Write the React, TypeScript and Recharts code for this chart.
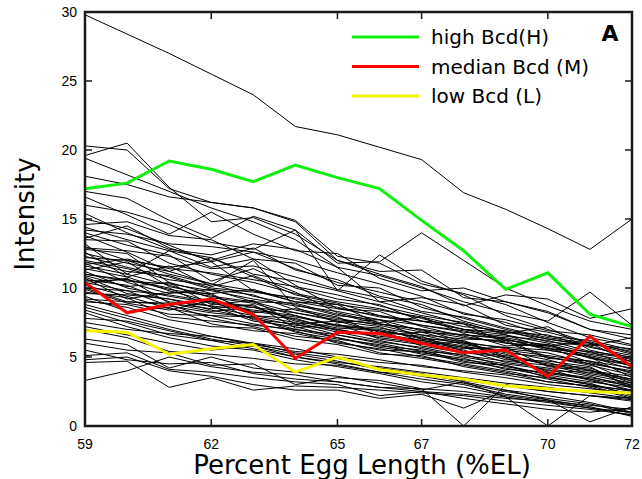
import { LineChart, Line, XAxis, YAxis } from 'recharts';

// percent egg length positions (x)
const pct = [59, 60, 61, 62, 63, 64, 65, 66, 67, 68, 69, 70, 71, 72];
const xTicks = [59, 62, 65, 67, 70, 72];
const yTicks = [0, 5, 10, 15, 20, 25, 30];

const highBcd = [17.2, 17.6, 19.2, 18.6, 17.7, 18.9, 18.0, 17.2, 14.9, 12.7, 9.9, 11.1, 8.1, 7.2];
const medianBcd = [10.4, 8.2, 8.8, 9.2, 8.1, 4.9, 6.8, 6.7, 6.0, 5.3, 5.5, 3.6, 6.5, 4.3];
const lowBcd = [6.9, 6.8, 5.2, 5.6, 5.9, 3.9, 5.0, 4.1, 3.7, 3.4, 2.9, 2.7, 2.5, 2.4];

// individual embryo profiles (black)
const embryos = [
  [29.8, 28.4, 27.0, 25.5, 24.0, 21.7, 21.1, 20.2, 19.3, 16.9, 15.7, 14.3, 12.8, 15.0],
  [20.3, 20.0, 17.2, 16.2, 15.8, 14.9, 12.3, 11.8, 10.3, 9.6, 8.8, 7.5, 6.4, 5.8],
  [19.6, 20.5, 17.3, 14.8, 15.1, 13.9, 12.0, 11.2, 11.3, 9.3, 9.0, 8.3, 7.0, 6.3],
  [19.4, 18.2, 17.0, 15.8, 14.8, 13.5, 11.5, 10.9, 10.0, 9.0, 8.2, 7.6, 9.7, 7.3],
  [18.1, 17.5, 16.6, 16.2, 15.8, 14.8, 12.0, 11.0, 10.1, 8.7, 9.5, 9.2, 7.8, 8.5],
  [17.0, 16.5, 14.9, 13.6, 15.2, 14.2, 11.8, 11.9, 14.0, 12.0, 10.0, 8.7, 7.6, 7.0],
  [16.6, 15.3, 13.9, 15.5, 13.9, 12.7, 12.5, 10.7, 9.8, 10.0, 9.0, 8.2, 7.0, 6.6],
  [16.0, 15.5, 14.6, 13.3, 12.8, 14.2, 9.8, 12.4, 10.5, 9.5, 8.0, 7.0, 6.0, 4.6],
  [15.4, 14.0, 12.8, 12.4, 13.2, 12.8, 11.5, 9.0, 9.3, 8.8, 7.3, 6.8, 6.0, 5.2],
  [15.0, 14.3, 13.1, 11.9, 12.6, 11.4, 10.4, 9.7, 9.0, 8.2, 7.5, 6.5, 6.2, 5.5],
  [14.6, 14.8, 13.8, 13.5, 12.1, 11.8, 10.2, 10.0, 8.6, 7.8, 7.0, 6.3, 5.8, 4.9],
  [14.4, 13.5, 12.7, 12.2, 11.0, 10.5, 9.8, 9.0, 8.2, 7.4, 6.7, 7.2, 5.5, 4.8],
  [14.2, 13.9, 13.2, 13.0, 12.6, 12.0, 11.1, 10.3, 9.4, 8.1, 7.7, 6.9, 6.6, 5.9],
  [14.0, 13.1, 12.4, 10.5, 11.4, 10.0, 9.2, 8.8, 7.6, 7.4, 6.0, 5.8, 5.0, 4.1],
  [13.8, 12.6, 11.2, 12.2, 10.8, 9.5, 8.9, 8.0, 7.3, 6.9, 6.2, 5.0, 4.5, 4.0],
  [13.6, 14.5, 12.9, 12.0, 12.9, 11.3, 10.6, 9.4, 8.8, 7.6, 6.8, 6.6, 5.7, 5.1],
  [13.5, 13.4, 11.8, 11.0, 10.4, 9.6, 9.0, 8.5, 7.8, 7.0, 6.6, 5.6, 5.4, 4.3],
  [13.2, 11.0, 12.7, 11.5, 12.1, 10.2, 8.5, 8.3, 7.2, 6.5, 6.0, 5.7, 4.6, 3.9],
  [13.0, 12.0, 11.5, 11.9, 9.8, 9.2, 8.6, 7.9, 7.6, 7.0, 6.3, 5.5, 5.0, 3.5],
  [12.9, 12.7, 12.3, 11.4, 11.6, 10.8, 9.9, 9.3, 8.3, 7.9, 7.1, 6.4, 6.0, 5.4],
  [12.8, 12.5, 10.4, 9.6, 9.9, 9.0, 8.8, 7.4, 7.0, 6.1, 5.6, 5.3, 4.5, 3.2],
  [12.6, 10.8, 11.6, 10.1, 10.9, 9.7, 8.2, 7.5, 7.9, 6.7, 5.8, 5.9, 4.9, 4.4],
  [12.5, 11.8, 11.2, 10.3, 9.4, 8.8, 8.0, 7.7, 6.9, 6.4, 6.1, 4.9, 4.7, 3.8],
  [12.3, 11.5, 10.8, 9.9, 9.5, 8.4, 7.8, 7.3, 6.6, 5.9, 5.4, 4.8, 4.0, 3.4],
  [12.2, 12.0, 11.0, 10.3, 9.8, 9.0, 8.5, 8.0, 7.6, 7.0, 6.8, 6.3, 5.9, 5.6],
  [12.0, 11.4, 10.6, 10.2, 12.0, 8.6, 7.5, 7.7, 6.3, 6.2, 5.0, 4.5, 4.2, 3.1],
  [11.9, 11.2, 10.9, 10.0, 9.7, 9.3, 8.8, 8.4, 7.9, 7.2, 6.9, 6.1, 5.8, 6.4],
  [11.8, 10.4, 9.6, 9.9, 9.0, 8.2, 7.6, 6.8, 6.5, 5.4, 5.1, 4.6, 3.8, 3.3],
  [11.7, 12.1, 11.4, 11.1, 10.6, 10.1, 9.5, 8.7, 8.0, 7.5, 6.6, 6.0, 5.3, 4.9],
  [11.6, 11.0, 10.2, 9.3, 8.9, 8.0, 7.2, 7.0, 6.3, 5.8, 5.2, 4.4, 4.1, 2.9],
  [11.4, 10.8, 9.8, 9.0, 8.7, 7.6, 7.0, 6.4, 6.0, 5.5, 4.6, 4.2, 3.6, 2.8],
  [11.3, 11.9, 10.1, 9.5, 8.2, 8.5, 7.9, 6.6, 6.8, 6.0, 5.3, 5.0, 4.4, 3.7],
  [11.2, 10.0, 9.4, 8.9, 8.3, 7.9, 7.3, 6.9, 5.8, 5.3, 5.0, 3.9, 3.5, 3.0],
  [11.0, 10.5, 10.3, 9.8, 9.2, 8.7, 8.3, 7.7, 7.3, 6.8, 6.5, 6.2, 5.4, 5.0],
  [11.0, 10.6, 10.0, 8.6, 8.0, 7.5, 6.8, 6.2, 5.6, 5.0, 4.5, 4.1, 3.3, 2.6],
  [10.9, 10.1, 10.4, 8.8, 9.1, 7.4, 7.6, 7.2, 6.1, 5.6, 5.7, 4.3, 4.0, 3.6],
  [10.8, 9.6, 9.2, 8.4, 7.8, 7.0, 6.6, 6.0, 5.4, 5.2, 4.3, 3.8, 3.4, 2.5],
  [10.7, 9.2, 9.7, 9.6, 8.0, 7.8, 6.9, 6.7, 6.2, 5.7, 4.8, 4.7, 4.3, 2.7],
  [10.6, 10.2, 9.0, 8.7, 7.6, 7.2, 6.4, 5.8, 5.5, 4.7, 4.2, 3.6, 3.0, 2.3],
  [10.5, 10.6, 9.9, 9.4, 9.0, 8.9, 8.1, 7.4, 7.0, 6.6, 6.4, 5.8, 6.1, 5.3],
  [10.4, 9.8, 8.7, 8.2, 7.9, 6.8, 6.3, 5.9, 5.2, 4.8, 4.4, 3.5, 3.1, 2.2],
  [10.3, 10.7, 8.9, 8.5, 8.8, 7.1, 7.4, 6.3, 5.9, 6.1, 4.9, 4.0, 3.9, 3.4],
  [10.2, 9.4, 8.5, 8.0, 7.4, 6.9, 6.0, 5.6, 5.0, 4.5, 4.0, 3.4, 2.8, 2.0],
  [10.0, 9.8, 9.5, 9.0, 8.6, 8.2, 7.7, 7.4, 6.8, 6.6, 6.3, 5.6, 5.2, 4.7],
  [10.0, 9.0, 8.8, 7.8, 7.2, 6.5, 6.2, 5.3, 4.9, 4.4, 3.9, 3.2, 2.9, 2.1],
  [9.9, 8.9, 8.4, 9.1, 7.7, 7.4, 6.6, 6.1, 5.7, 5.1, 4.7, 4.4, 3.7, 3.1],
  [9.7, 9.3, 7.9, 7.6, 7.3, 7.0, 6.4, 5.7, 5.3, 4.9, 4.1, 3.9, 3.4, 2.9],
  [9.6, 9.5, 9.2, 8.7, 8.4, 8.0, 7.3, 7.1, 6.6, 6.3, 6.2, 5.9, 5.1, 4.5],
  [9.4, 8.3, 8.6, 7.4, 6.9, 6.7, 6.1, 5.5, 5.4, 4.6, 4.4, 3.7, 3.2, 2.8],
  [9.2, 9.0, 8.9, 8.3, 8.6, 7.7, 7.1, 6.9, 6.4, 6.0, 5.7, 5.5, 5.0, 4.4],
  [9.1, 8.6, 7.7, 7.2, 7.1, 6.3, 5.9, 5.2, 5.1, 4.3, 3.8, 3.5, 3.0, 2.5],
  [9.0, 8.8, 8.1, 8.0, 7.9, 7.3, 7.0, 6.5, 6.2, 5.7, 5.5, 5.1, 4.7, 4.2],
  [8.8, 8.0, 7.2, 6.5, 6.0, 5.3, 4.9, 4.2, 3.8, 3.2, 2.6, 2.2, 1.7, 1.0],
  [8.6, 7.8, 7.0, 6.3, 5.8, 5.2, 4.7, 4.1, 3.6, 3.1, 2.5, 2.0, 1.6, 0.9],
  [8.4, 7.5, 6.6, 6.2, 5.6, 5.0, 4.5, 3.9, 3.4, 3.0, 2.3, 1.9, 1.4, 0.7],
  [8.2, 7.2, 6.4, 5.8, 5.5, 4.8, 4.3, 3.8, 3.2, 2.8, 2.2, 1.8, 1.3, 0.8],
  [7.8, 7.6, 6.9, 6.2, 6.0, 5.6, 5.0, 4.6, 4.4, 3.9, 3.5, 3.0, 2.7, 2.4],
  [7.5, 7.0, 6.7, 6.5, 5.9, 5.4, 5.2, 4.8, 4.3, 4.0, 3.7, 3.2, 2.9, 2.6],
  [7.2, 6.6, 6.0, 5.5, 5.8, 5.0, 4.6, 4.3, 3.9, 3.5, 3.1, 2.8, 2.4, 2.0],
  [7.0, 6.4, 5.4, 5.2, 4.9, 4.5, 4.4, 3.9, 3.7, 3.3, 2.9, 2.5, 2.2, 1.9],
  [6.3, 5.9, 4.2, 5.0, 4.2, 3.9, 3.6, 3.1, 2.6, 3.2, 2.1, 0.0, 2.2, 2.0],
  [6.0, 5.5, 5.3, 4.4, 4.5, 3.0, 3.5, 3.3, 2.7, 0.0, 3.0, 2.5, 2.2, 1.8],
  [5.5, 4.8, 4.5, 4.6, 3.8, 3.4, 3.2, 2.8, 2.7, 2.5, 2.1, 1.7, 1.3, 1.0],
  [5.1, 5.3, 4.1, 3.9, 3.5, 3.2, 3.0, 2.2, 2.5, 2.0, 1.6, 1.2, 1.0, 1.3],
  [4.8, 5.0, 4.0, 3.6, 3.0, 2.6, 2.6, 2.0, 2.3, 1.3, 2.6, 1.9, 0.3, 1.4],
  [4.6, 4.7, 2.8, 3.5, 2.6, 2.9, 2.8, 2.6, 2.4, 2.2, 1.8, 1.5, 1.2, 0.8],
  [3.3, 4.0, 5.0, 4.3, 3.9, 3.7, 3.2, 2.8, 2.5, 2.3, 2.0, 1.8, 1.5, 1.2],
];

const data = pct.map((p, i) => {
  const row: Record<string, number> = {
    pct: p,
    high: highBcd[i],
    median: medianBcd[i],
    low: lowBcd[i],
  };
  embryos.forEach((e, j) => {
    row['e' + j] = e[i];
  });
  return row;
});

const GREEN = '#0cf00c';
const RED = '#ff0000';
const YELLOW = '#f5f500';
const numFont = '"Liberation Sans", Arial, sans-serif';
const textFont = '"DejaVu Sans", sans-serif';

// plot box (must match chart margins / axis sizes below)
const W = 642;
const H = 479;
const M = { top: 12, right: 10, left: 0, bottom: 0 };
const Y_AXIS_W = 85;
const X_AXIS_H = 53;
const box = {
  left: M.left + Y_AXIS_W,
  right: W - M.right,
  top: M.top,
  bottom: H - M.bottom - X_AXIS_H,
};
const TICK = 7;
const px = (v: number) => box.left + ((v - 59) / (72 - 59)) * (box.right - box.left);
const py = (v: number) => box.bottom - (v / 30) * (box.bottom - box.top);

const legendItems = [
  { label: 'high Bcd(H)', color: GREEN },
  { label: 'median Bcd (M)', color: RED },
  { label: 'low Bcd (L)', color: YELLOW },
];

export default function App() {
  return (
    <div style={{ position: 'absolute', left: 0, top: 0, width: W, height: H, background: '#fff' }}>
      <LineChart width={W} height={H} data={data} margin={M}>
        <XAxis
          dataKey="pct"
          type="number"
          domain={[59, 72]}
          ticks={xTicks}
          height={X_AXIS_H}
          tickMargin={7}
          tickLine={false}
          axisLine={false}
          tick={{ fontFamily: numFont, fontSize: 14, fill: '#000' }}
        />
        <YAxis
          type="number"
          domain={[0, 30]}
          ticks={yTicks}
          width={Y_AXIS_W}
          tickMargin={2}
          tickLine={false}
          axisLine={false}
          tick={{ fontFamily: numFont, fontSize: 14, fill: '#000' }}
        />
        {embryos.map((_, j) => (
          <Line
            key={'e' + j}
            dataKey={'e' + j}
            type="linear"
            stroke="#000"
            strokeWidth={1}
            dot={false}
            activeDot={false}
            isAnimationActive={false}
          />
        ))}
        <Line dataKey="high" type="linear" stroke={GREEN} strokeWidth={3} dot={false} isAnimationActive={false} />
        <Line dataKey="median" type="linear" stroke={RED} strokeWidth={3} dot={false} isAnimationActive={false} />
        <Line dataKey="low" type="linear" stroke={YELLOW} strokeWidth={3} dot={false} isAnimationActive={false} />
      </LineChart>
      <svg width={W} height={H} style={{ position: 'absolute', left: 0, top: 0, pointerEvents: 'none' }}>
        {/* frame with inward ticks on all four sides */}
        <path
          d={`M${box.left},${box.top} H${box.right} V${box.bottom} H${box.left} Z`}
          fill="none"
          stroke="#1a1a1a"
          strokeWidth={2.5}
        />
        {xTicks.slice(1, -1).map((t) => (
          <g key={'xt' + t}>
            <line x1={px(t)} x2={px(t)} y1={box.bottom} y2={box.bottom - TICK} stroke="#1a1a1a" strokeWidth={1.5} />
            <line x1={px(t)} x2={px(t)} y1={box.top} y2={box.top + TICK} stroke="#1a1a1a" strokeWidth={1.5} />
          </g>
        ))}
        {yTicks.slice(1, -1).map((t) => (
          <g key={'yt' + t}>
            <line x1={box.left} x2={box.left + TICK} y1={py(t)} y2={py(t)} stroke="#1a1a1a" strokeWidth={1.5} />
            <line x1={box.right} x2={box.right - TICK} y1={py(t)} y2={py(t)} stroke="#1a1a1a" strokeWidth={1.5} />
          </g>
        ))}
        {legendItems.map((it, i) => (
          <g key={it.label}>
            <line x1={352} x2={419} y1={37 + i * 29.5} y2={37 + i * 29.5} stroke={it.color} strokeWidth={3} />
            <text x={431} y={44 + i * 29.5} fontFamily={textFont} fontSize={20} fill="#000">
              {it.label}
            </text>
          </g>
        ))}
        <text x={610} y={41} textAnchor="middle" fontFamily={textFont} fontWeight="bold" fontSize={22} fill="#000">
          A
        </text>
        <text x={362} y={474} textAnchor="middle" fontFamily={textFont} fontSize={26} fill="#000">
          Percent Egg Length (%EL)
        </text>
        <text
          x={34}
          y={214}
          transform="rotate(-90 34 214)"
          textAnchor="middle"
          fontFamily={textFont}
          fontSize={26}
          fill="#000"
        >
          Intensity
        </text>
      </svg>
    </div>
  );
}
